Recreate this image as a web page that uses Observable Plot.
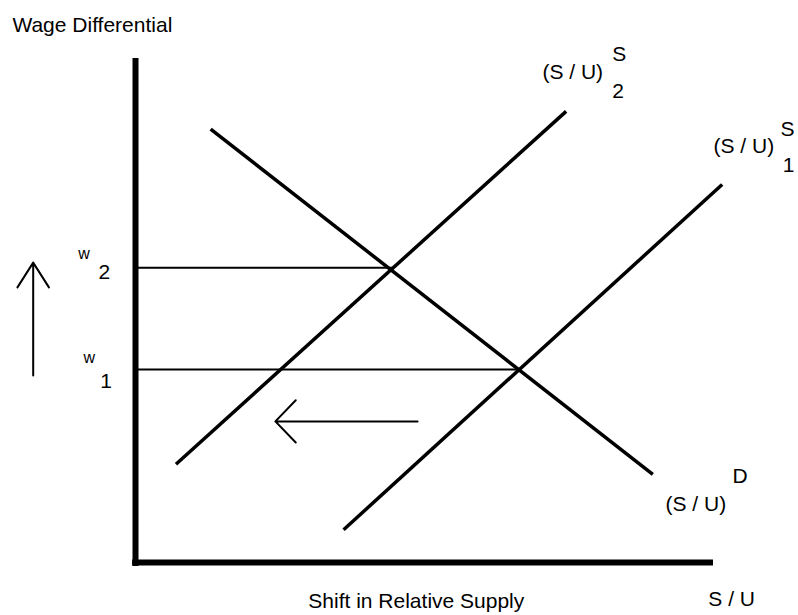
<!DOCTYPE html>
<html><head><meta charset="utf-8">
<script src="https://cdn.jsdelivr.net/npm/d3@7"></script>
<script src="https://cdn.jsdelivr.net/npm/@observablehq/plot@0.6"></script>
<style>body{margin:0;background:#fff}</style>
</head><body><div id="chart"></div>
<script>
// Curves (relative supply S/U on x, wage differential on y), in data units
const curveNames = ["D", "S2", "S1"];
const curveX1 = [1.3, 0.7, 3.6];
const curveY1 = [8.6, 1.95, 0.65];
const curveX2 = [8.95, 7.45, 10.15];
const curveY2 = [1.75, 8.95, 7.5];

// Equilibria: wage levels and quantities
const wageNames = ["w2", "w1"];
const wageLevels = [5.85, 3.83];
const equilibriumQ = [4.45, 6.65];

// Arrows
const arrowNames = ["wage rises", "supply shifts left"];
const arrowX1 = [-1.77, 4.88];
const arrowY1 = [3.71, 2.80];
const arrowX2 = [-1.77, 2.42];
const arrowY2 = [5.95, 2.80];
const arrowHead = [65, 92];

// Text labels
const labelText = ["Wage Differential", "(S / U)", "S", "2", "(S / U)", "S", "1", "(S / U)", "D",
                   "w", "2", "w", "1", "S / U", "Shift in Relative Supply"];
const labelX = [-2.13, 7.04, 8.25, 8.25, 10.0, 11.16, 11.2, 9.17, 10.33,
                -0.99, -0.64, -0.90, -0.61, 9.91, 2.99];
const labelY = [10.52, 9.60, 9.96, 9.21, 8.12, 8.47, 7.74, 1.03, 1.57,
                6.03, 5.62, 3.95, 3.47, -0.87, -0.91];
const labelSize = [21, 21, 21, 21, 21, 21, 21, 21, 21, 16, 21, 16, 21, 21, 21];

const curves = curveNames.map((n, i) => ({name: n, x1: curveX1[i], y1: curveY1[i], x2: curveX2[i], y2: curveY2[i]}));
const wages = wageNames.map((n, i) => ({name: n, w: wageLevels[i], q: equilibriumQ[i]}));
const arrows = arrowNames.map((n, i) => ({name: n, x1: arrowX1[i], y1: arrowY1[i], x2: arrowX2[i], y2: arrowY2[i], a: arrowHead[i]}));
const labels = labelText.map((t, i) => ({t, x: labelX[i], y: labelY[i], s: labelSize[i]}));

const font = "'Liberation Sans', Arial, sans-serif";

const chart = Plot.plot({
  width: 798,
  height: 615,
  marginLeft: 135,
  marginRight: 85,
  marginTop: 58,
  marginBottom: 53,
  x: {domain: [0, 10], axis: null},
  y: {domain: [0, 10], axis: null},
  style: {background: "#fff", fontFamily: font},
  marks: [
    Plot.link(wages, {x1: 0, x2: "q", y1: "w", y2: "w", stroke: "#000", strokeWidth: 2}),
    Plot.link(curves, {x1: "x1", y1: "y1", x2: "x2", y2: "y2", stroke: "#000", strokeWidth: 3.5}),
    Plot.ruleX([0], {y1: -0.08, y2: 10, stroke: "#000", strokeWidth: 6}),
    Plot.ruleY([0], {x1: -0.05, x2: 10, stroke: "#000", strokeWidth: 6}),
    ...arrows.map(a => Plot.arrow([a], {x1: "x1", y1: "y1", x2: "x2", y2: "y2", stroke: "#000", strokeWidth: 2, headAngle: a.a, headLength: 22})),
    ...labels.map(l => Plot.text([l], {x: "x", y: "y", text: "t", textAnchor: "start", lineAnchor: "bottom", fontSize: l.s, fill: "#000", fontFamily: font}))
  ]
});
document.getElementById("chart").appendChild(chart);
</script>
</body></html>
